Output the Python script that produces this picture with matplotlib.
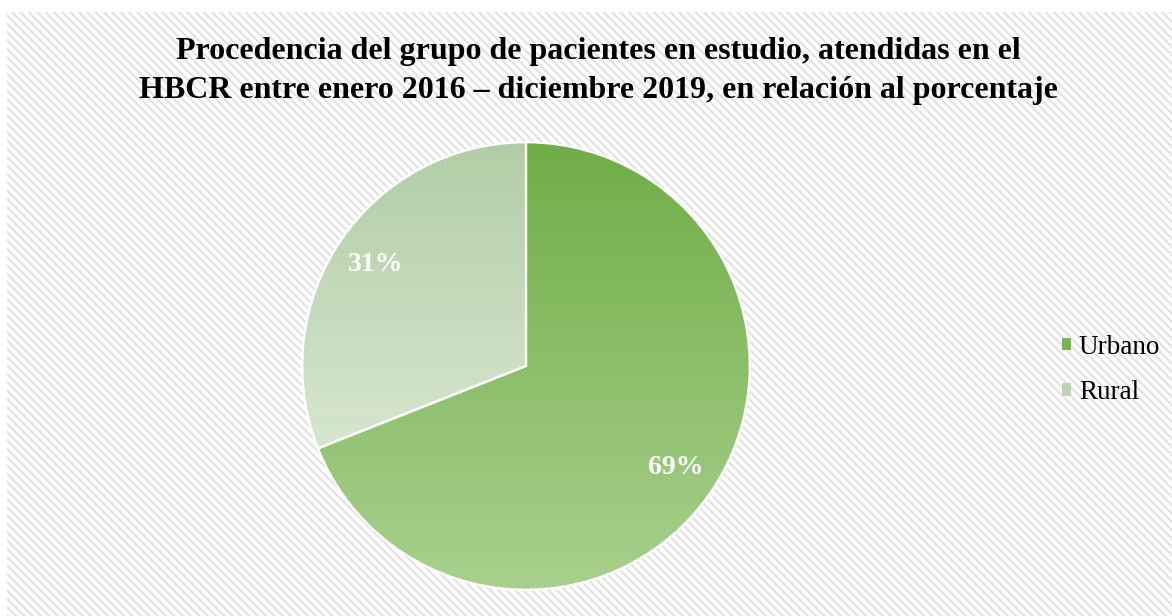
import matplotlib
matplotlib.use("Agg")
import matplotlib.pyplot as plt
import numpy as np
from matplotlib.patches import Rectangle, Patch
from matplotlib.colors import LinearSegmentedColormap

categories = ["Urbano", "Rural"]
values = [69, 31]
title = ("Procedencia del grupo de pacientes en estudio, atendidas en el\n"
         "HBCR entre enero 2016 – diciembre 2019, en relación al porcentaje")
grad_top = ["#70ad47", "#b2cda6"]
grad_bottom = ["#a9d18e", "#d6e6cf"]

plt.rcParams["font.family"] = ["Liberation Serif", "DejaVu Serif"]
plt.rcParams["hatch.linewidth"] = 1.5

W, H = 1172, 616
fig = plt.figure(figsize=(W / 100, H / 100), dpi=100)
fig.patch.set_facecolor("white")

bg = Rectangle((7 / W, 0), 1 - 7 / W, 1 - 12 / H, transform=fig.transFigure,
               facecolor="white", edgecolor="#e2e2e2", hatch="\\\\\\\\", linewidth=0,
               zorder=-10)
fig.patches.append(bg)

fig.text(598 / W, 1 - 71 / H, title, ha="center", va="center",
         fontsize=23, fontweight="bold", color="black", linespacing=1.45)

cx, cy, r = 526, 366, 226
ax = fig.add_axes([(cx - r) / W, (H - cy - r) / H, 2 * r / W, 2 * r / H])
ax.set_facecolor("none")
ax.patch.set_alpha(0)

wedges, texts, autotexts = ax.pie(
    values, startangle=90, counterclock=False, autopct="%1.0f%%",
    pctdistance=0.81, colors=grad_top,
    wedgeprops=dict(edgecolor="white", linewidth=1.6),
    textprops=dict(color="white", fontsize=20, fontweight="bold"))
ax.set_xlim(-1.01, 1.01)
ax.set_ylim(-1.01, 1.01)
ax.set_aspect("equal")

for i, w in enumerate(wedges):
    w.set_facecolor("none")
    verts = w.get_path().vertices
    ymin, ymax = verts[:, 1].min(), verts[:, 1].max()
    cmap = LinearSegmentedColormap.from_list("g%d" % i, [grad_bottom[i], grad_top[i]])
    grad = np.linspace(0, 1, 256).reshape(-1, 1)
    im = ax.imshow(grad, cmap=cmap, origin="lower", aspect="auto",
                   extent=(-1, 1, ymin, ymax), zorder=w.get_zorder() - 0.1,
                   interpolation="bilinear")
    im.set_clip_path(w)

for t in autotexts:
    t.set_zorder(5)

handles = [Patch(facecolor="#78b451", edgecolor="none"),
           Patch(facecolor="#bcd5b1", edgecolor="none")]
fig.legend(handles, categories, loc="center left", bbox_to_anchor=(1062 / W, 1 - 370 / H),
           frameon=False, fontsize=19.5, handlelength=0.32, handleheight=0.32,
           handletextpad=0.3, labelspacing=0.75, borderpad=0, borderaxespad=0)

fig.savefig("out.png", dpi=100)
